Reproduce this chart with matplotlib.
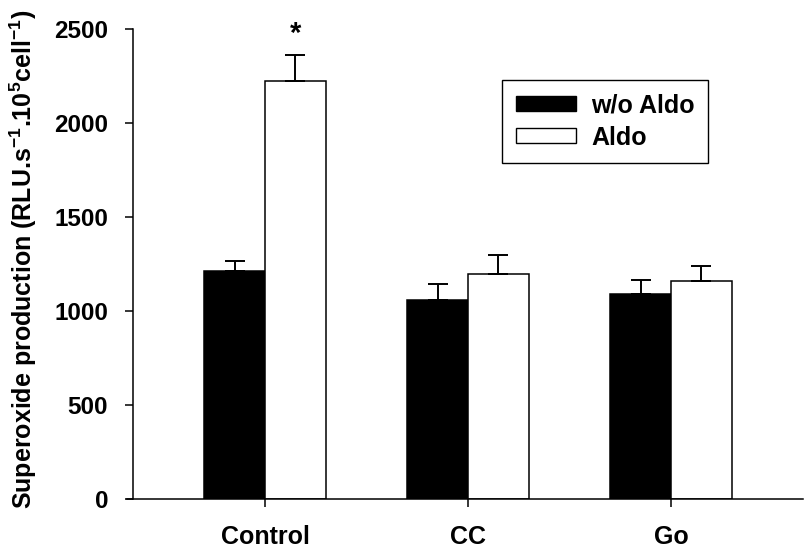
import matplotlib
matplotlib.use("Agg")
import matplotlib.pyplot as plt
import numpy as np
from matplotlib.patches import Patch

plt.rcParams["font.family"] = ["Liberation Sans", "DejaVu Sans"]
plt.rcParams["font.weight"] = "bold"
plt.rcParams["mathtext.fontset"] = "custom"
plt.rcParams["mathtext.rm"] = "Liberation Sans:bold"
plt.rcParams["mathtext.bf"] = "Liberation Sans:bold"
plt.rcParams["mathtext.it"] = "Liberation Sans:bold"

categories = ["Control", "CC", "Go"]
series_names = ["w/o Aldo", "Aldo"]
without_aldo = [1214, 1057, 1090]
without_aldo_err = [52, 88, 75]
with_aldo = [2223, 1195, 1161]
with_aldo_err = [139, 101, 78]
y_ticks = [0, 500, 1000, 1500, 2000, 2500]

fig = plt.figure(figsize=(8.06, 5.53), dpi=100)
ax = fig.add_axes([133 / 806, 54 / 553, 670 / 806, 470 / 553])

x = np.arange(len(categories))
width = 0.30
err_kw = dict(ecolor="black", elinewidth=1.4, capsize=7, capthick=1.4)

ax.bar(x - width / 2, without_aldo, width, color="black", edgecolor="black",
       linewidth=1.1, label=series_names[0],
       yerr=[np.zeros(3), without_aldo_err], error_kw=err_kw)
ax.bar(x + width / 2, with_aldo, width, color="white", edgecolor="black",
       linewidth=1.1, label=series_names[1],
       yerr=[np.zeros(3), with_aldo_err], error_kw=err_kw)

# significance marker over control + aldo
ax.text(x[0] + width / 2, with_aldo[0] + with_aldo_err[0] + 35, "*",
        ha="center", va="bottom", fontsize=21, fontweight="bold")

ax.set_xlim(-0.65, 2.65)
ax.set_ylim(0, 2500)
ax.set_yticks(y_ticks)
ax.set_xticks(x)
ax.set_xticklabels(categories)
ax.tick_params(axis="both", direction="out", length=6, width=1.1,
               labelsize=17.5)
ax.tick_params(axis="y", pad=12)
ax.tick_params(axis="x", pad=13, labelsize=18)
for side in ["top", "right"]:
    ax.spines[side].set_visible(False)
for side in ["left", "bottom"]:
    ax.spines[side].set_linewidth(1.1)
ax.spines["bottom"].set_bounds(-0.65 - 6 / 203, 2.65)

ax.set_ylabel(r"Superoxide production (RLU.s$^{-1}$.10$^{5}$cell$^{-1}$)",
              fontsize=18, fontweight="bold")
ax.yaxis.set_label_coords(-0.141, 0.51)

handles = [Patch(facecolor="black", edgecolor="black", linewidth=1.0),
           Patch(facecolor="white", edgecolor="black", linewidth=1.0)]
leg = ax.legend(handles, series_names, loc="upper left",
                bbox_to_anchor=(0.551, 0.892), borderaxespad=0,
                fancybox=False, edgecolor="black", framealpha=1,
                prop={"size": 18, "weight": "bold"},
                handlelength=2.4, handleheight=0.56, labelspacing=0.32,
                borderpad=0.55, handletextpad=0.6)
leg.get_frame().set_linewidth(1.0)

fig.savefig("out.png", dpi=100)
